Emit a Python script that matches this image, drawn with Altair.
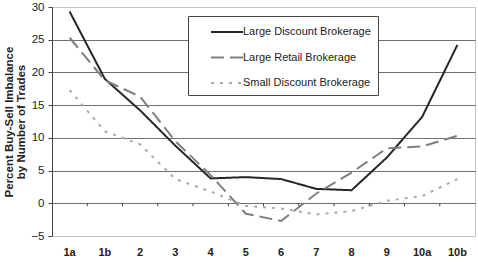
import altair as alt
import pandas as pd

categories = ["1a", "1b", "2", "3", "4", "5", "6", "7", "8", "9", "10a", "10b"]
series_names = ["Large Discount Brokerage", "Large Retail Brokerage", "Small Discount Brokerage"]
large_discount = [29.3, 19.0, 14.2, 8.8, 3.8, 4.0, 3.7, 2.2, 2.0, 7.0, 13.2, 24.2]
large_retail = [25.3, 18.8, 16.3, 9.5, 4.3, -1.6, -2.7, 1.5, 4.7, 8.4, 8.7, 10.3]
small_discount = [17.3, 11.0, 9.0, 3.7, 1.8, -0.4, -0.8, -1.7, -1.2, 0.4, 1.1, 3.7]
y_ticks = [-5, 0, 5, 10, 15, 20, 25, 30]

rows = []
for name, vals in zip(series_names, [large_discount, large_retail, small_discount]):
    for c, v in zip(categories, vals):
        rows.append({"cat": c, "value": v, "series": name})
df = pd.DataFrame(rows)
cat_df = pd.DataFrame({"cat": categories[1:]})

FONT = "Liberation Sans"
W, H = 423, 229

x_scale = alt.Scale(type="band", domain=categories, paddingInner=0, paddingOuter=0)
y_scale = alt.Scale(domain=[-5, 30], nice=False, zero=False)

x_axis = alt.Axis(
    title=None, orient="bottom", domain=False, ticks=False, labelAngle=0, labelPadding=10,
    labelFont=FONT, labelFontSize=11, labelFontWeight="bold", labelColor="#222",
    grid=False, bandPosition=0.5,
)

y_axis = alt.Axis(
    values=y_ticks,
    title=["Percent Buy-Sell Imbalance", "by Number of Trades"],
    titleFont=FONT, titleFontSize=11.5, titleFontWeight="bold", titleColor="#222",
    titlePadding=4, titleLineHeight=12,
    labelFont=FONT, labelFontSize=11.5, labelColor="#222", labelPadding=4,
    domainColor="#444", domainWidth=1,
    tickColor="#444", tickSize=4,
    grid=True,
    gridColor={"condition": {"test": "datum.value == 30 || datum.value == -5", "value": "#c4c4c4"}, "value": "#707070"},
    gridWidth=1,
)

color_scale = alt.Scale(domain=series_names, range=["#262626", "#808080", "#a9a9a9"])
dash_scale = alt.Scale(domain=series_names, range=[[1, 0], [13, 6], [3, 6]])

lines = alt.Chart(df).mark_line(strokeWidth=2).encode(
    x=alt.X("cat:N", sort=categories, bandPosition=0.5, scale=x_scale, axis=x_axis),
    y=alt.Y("value:Q", scale=y_scale, axis=y_axis),
    color=alt.Color(
        "series:N", scale=color_scale, sort=series_names,
        legend=alt.Legend(
            title=None, orient="none", legendX=136, legendY=9,
            symbolType="M-2,0L2,0", symbolSize=256, symbolStrokeWidth=2,
            symbolOffset=23,
            labelFont=FONT, labelFontSize=11, labelColor="#222", labelOffset=7,
            labelExpr="datum.label + '\u00a0\u00a0\u00a0'",
            rowPadding=11.5, padding=7,
            fillColor="white", strokeColor="#444",
        ),
    ),
    strokeDash=alt.StrokeDash("series:N", scale=dash_scale, sort=series_names, legend=None),
)

zero_ticks = alt.Chart(cat_df).mark_rule(color="#444", strokeWidth=1).encode(
    x=alt.X("cat:N", sort=categories, bandPosition=0, scale=x_scale, axis=x_axis),
    y=alt.YDatum(0, scale=y_scale, axis=y_axis),
    y2=alt.datum(-0.45),
)

chart = alt.layer(lines, zero_ticks).properties(
    width=W, height=H,
    autosize=alt.AutoSizeParams(type="none"),
    padding={"left": 52, "top": 7, "right": 3, "bottom": 30},
    background="white",
).configure_view(stroke="#c4c4c4", strokeWidth=1)

chart.save("out.html", embed_options={"renderer": "svg", "actions": False})
